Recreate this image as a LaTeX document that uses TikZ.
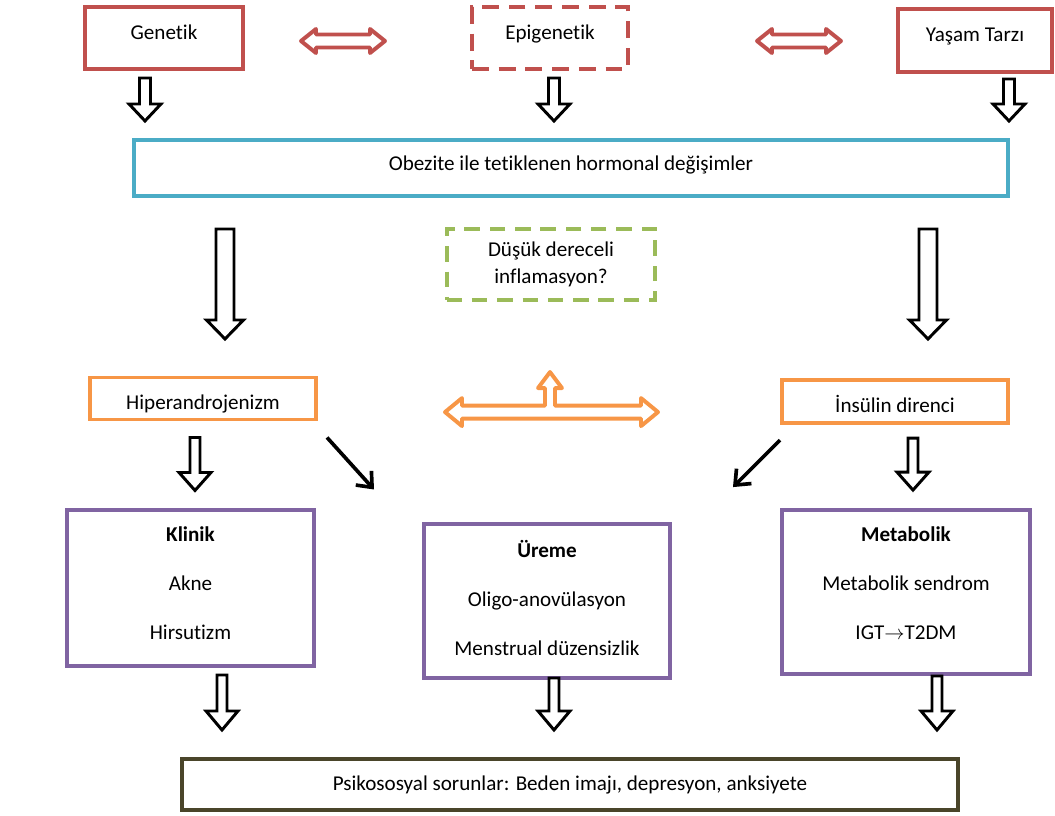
\documentclass[tikz,border=0pt]{standalone}
\usepackage{fontspec}
\setmainfont[Ligatures={NoCommon}]{Carlito}
\usepackage{tikz}
\usetikzlibrary{arrows.meta, positioning, calc}

\definecolor{boxred}{HTML}{C0504D}
\definecolor{boxblue}{HTML}{4BACC6}
\definecolor{boxgreen}{HTML}{9BBB59}
\definecolor{boxpurple}{HTML}{8064A2}
\definecolor{boxorange}{HTML}{F79646}
\definecolor{boxolive}{HTML}{4A452A}

\tikzset{
  box/.style={draw, line width=2.8pt, inner sep=0pt, align=center, fill=white,
    font=\fontsize{15}{18}\selectfont},
  topbox/.style={box, draw=boxred, minimum height=1.55cm, text depth=8pt},
  hormbox/.style={box, draw=boxblue, minimum width=21.85cm, minimum height=1.4cm, text depth=7pt},
  inflbox/.style={box, draw=boxgreen, dash pattern=on 11pt off 7pt, minimum width=5.22cm,
    minimum height=1.78cm, font=\fontsize{15}{19.2}\selectfont},
  mechbox/.style={box, draw=boxorange, minimum width=5.65cm, minimum height=1.05cm,
    text height=16pt, text depth=0pt},
  outbox/.style={box, draw=boxpurple, minimum height=3.9cm, font=\fontsize{15}{35}\selectfont},
  psybox/.style={box, draw=boxolive, minimum width=19.4cm, minimum height=1.28cm},
  fatblk/.style={draw=black, line width=2.1pt, fill=white},
  fatred/.style={draw=boxred, line width=2.8pt, fill=white, line join=round},
  fatorange/.style={draw=boxorange, line width=2.8pt, fill=white, line join=round},
  diag/.style={line width=2.6pt, -{Straight Barb[length=9pt, width=15pt]}},
}

% block arrow pointing down: top, tip, shaft half, head half, head length
\newcommand{\fatdown}[5]{%
  \draw[fatblk] ($(#1)+(-#3,0)$) -- ($(#1)+(#3,0)$) -- ($(#2)+(#3,-#5)$)
    -- ($(#2)+(#4,-#5)$) -- (#2) -- ($(#2)+(-#4,-#5)$) -- ($(#2)+(-#3,-#5)$) -- cycle;}

% block arrow with two heads: left tip, right tip, shaft half, head half, head length
\newcommand{\fatboth}[5]{%
  \draw[fatred] (#1) -- ($(#1)+(#5,-#4)$) -- ($(#1)+(#5,-#3)$) -- ($(#2)+(-#5,-#3)$)
    -- ($(#2)+(-#5,-#4)$) -- (#2) -- ($(#2)+(-#5,#4)$) -- ($(#2)+(-#5,#3)$)
    -- ($(#1)+(#5,#3)$) -- ($(#1)+(#5,#4)$) -- cycle;}

\begin{document}
\begin{tikzpicture}[x=0.025cm, y=-0.025cm]
\useasboundingbox (0,0) rectangle (1055,816);

% Causes
\node[topbox, minimum width=3.95cm] (gen) at (164,38) {Genetik};
\node[topbox, minimum width=3.9cm, dash pattern=on 12pt off 7pt] (epi) at (550,38) {Epigenetik};
\node[topbox, minimum width=3.85cm, minimum height=1.575cm] (yas) at (975,40.5) {Yaşam Tarzı};

\coordinate (r1a) at ($(gen.east)+(56,3)$);
\coordinate (r1b) at ($(epi.west)+(-85,3)$);
\coordinate (r2a) at ($(epi.east)+(127,3)$);
\coordinate (r2b) at ($(yas.west)+(-55,0.5)$);
\fatboth{r1a}{r1b}{6.5}{12}{15}
\fatboth{r2a}{r2b}{6.5}{12}{15}

% Hormonal changes
\node[hormbox] (obez) at (571,168) {Obezite ile tetiklenen hormonal değişimler};

\coordinate (ga1) at ($(gen.south)+(-19,7)$);  \coordinate (ga2) at ($(ga1)+(0,43)$);
\coordinate (ea1) at ($(epi.south)+(4,7)$);    \coordinate (ea2) at ($(ea1)+(0,43)$);
\coordinate (ya1) at ($(yas.south)+(34,5)$);   \coordinate (ya2) at ($(ya1)+(0,42)$);
\fatdown{ga1}{ga2}{5.5}{16}{17}
\fatdown{ea1}{ea2}{5.5}{16}{17}
\fatdown{ya1}{ya2}{5.5}{16}{17}

\node[inflbox] (inf) at (551,264.5) {Düşük dereceli\\inflamasyon?};

\coordinate (ol1) at ($(obez.south)+(-346,31)$); \coordinate (ol2) at ($(ol1)+(0,110)$);
\coordinate (or1) at ($(obez.south)+(357,31)$);  \coordinate (or2) at ($(or1)+(0,110)$);
\fatdown{ol1}{ol2}{9}{18.5}{19}
\fatdown{or1}{or2}{9}{18.5}{19}

% Mechanisms
\node[mechbox] (hip) at (203,398.5) {Hiperandrojenizm};
\node[mechbox, minimum height=1.08cm] (ins) at (895,401.5) {İnsülin direnci};

\coordinate (ol) at ($(inf.south)+(-106,110)$);
\coordinate (or) at ($(inf.south)+(107,110)$);
\coordinate (ou) at ($(inf.south)+(-1,70)$);
\draw[fatorange] (ol) -- ($(ol)+(17,-14)$) -- ($(ol)+(17,-6.5)$) -- ($(ou)+(-5,33.5)$)
  -- ($(ou)+(-5,16)$) -- ($(ou)+(-12,16)$) -- (ou) -- ($(ou)+(12,16)$) -- ($(ou)+(5,16)$)
  -- ($(ou)+(5,33.5)$) -- ($(or)+(-17,-6.5)$) -- ($(or)+(-17,-14)$) -- (or)
  -- ($(or)+(-17,14)$) -- ($(or)+(-17,6.5)$) -- ($(ol)+(17,6.5)$) -- ($(ol)+(17,14)$) -- cycle;

\coordinate (ha1) at ($(hip.south)+(-8,16)$); \coordinate (ha2) at ($(ha1)+(0,53)$);
\coordinate (ia1) at ($(ins.south)+(18,13)$); \coordinate (ia2) at ($(ia1)+(0,52)$);
\fatdown{ha1}{ha2}{5}{16}{18}
\fatdown{ia1}{ia2}{5}{16}{18}

\coordinate (hd1) at ($(hip.south east)+(9,16)$); \coordinate (hd2) at ($(hd1)+(47,52)$);
\coordinate (id1) at ($(ins.south west)+(0,15)$); \coordinate (id2) at ($(id1)+(-47,47)$);
\draw[diag] (hd1) -- (hd2);
\draw[diag] (id1) -- (id2);

% Outcomes
\node[outbox, minimum width=6.18cm, text depth=7pt] (kli) at (190.5,588) {\textbf{Klinik}\\Akne\\Hirsutizm};
\node[outbox, minimum width=6.15cm, minimum height=3.85cm, text depth=4pt] (ure) at (547,601)
  {\textbf{Üreme}\\Oligo-anovülasyon\\Menstrual düzensizlik};
\node[outbox, minimum width=6.2cm, minimum height=4.1cm, text depth=13pt] (met) at (906,592)
  {\textbf{Metabolik}\\Metabolik sendrom\\IGT$\rightarrow$T2DM};

\node[psybox] (psy) at (570,784.5) {Psikososyal sorunlar: Beden imajı, depresyon, anksiyete};

\coordinate (ka1) at ($(kli.south)+(31.5,7)$); \coordinate (ka2) at ($(ka1)+(0,55)$);
\coordinate (ua1) at ($(ure.south)+(7,-2)$);   \coordinate (ua2) at ($(ua1)+(0,52)$);
\coordinate (ma1) at ($(met.south)+(31,0)$);   \coordinate (ma2) at ($(ma1)+(0,54)$);
\fatdown{ka1}{ka2}{5}{16}{19}
\fatdown{ua1}{ua2}{5}{16}{19}
\fatdown{ma1}{ma2}{5}{16}{19}

\end{tikzpicture}
\end{document}
